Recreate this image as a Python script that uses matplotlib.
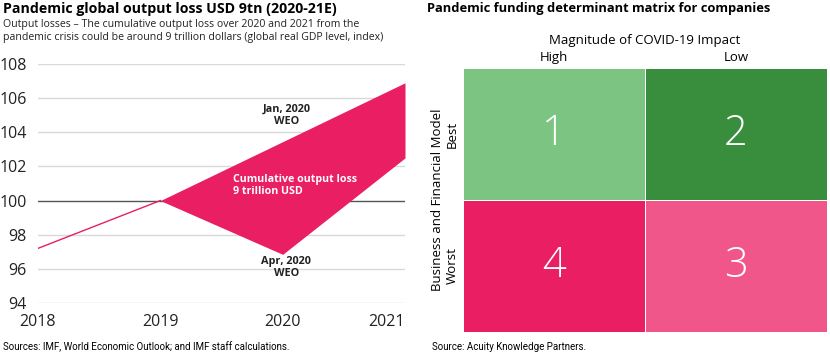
import matplotlib
matplotlib.use("Agg")
import matplotlib.pyplot as plt
import numpy as np
from matplotlib.colors import ListedColormap

plt.rcParams['font.family'] = ['Open Sans', 'DejaVu Sans']

# left chart data (global real GDP level, index)
years = [2018, 2019, 2020, 2021]
pre_years = [2018, 2019]
pre_values = [97.2, 100.0]
jan_weo = [100.0, 103.45, 106.9]   # 2019..2021
apr_weo = [100.0, 96.85, 102.5]    # 2019..2021
fc_years = [2019, 2020, 2021]
y_ticks = [94, 96, 98, 100, 102, 104, 106, 108]

# right chart data
col_labels = ["High", "Low"]
row_labels = ["Best", "Worst"]
cell_numbers = [[1, 2], [4, 3]]
cell_colors = ["#7CC482", "#388E3C", "#F0568A", "#E91E63"]  # by number 1..4

PINK = "#E91E63"

fig = plt.figure(figsize=(8.3, 3.6), dpi=100)

# ---- left chart ----
ax = fig.add_axes([38 / 830, 1 - 303 / 360, (405 - 38) / 830, (303 - 64) / 360])
ax.plot(pre_years, pre_values, color=PINK, lw=1)
ax.fill_between(fc_years, apr_weo, jan_weo, color=PINK, lw=0)
ax.set_xlim(2018, 2021)
ax.set_ylim(94, 108)
ax.set_yticks(y_ticks)
ax.set_xticks(years)
xl = ax.set_xticklabels([str(y) for y in years], fontsize=11.5, color="#222222")
xl[-1].set_horizontalalignment("right")
ax.set_yticklabels([str(v) for v in y_ticks], fontsize=11.5, color="#222222")
ax.tick_params(length=0)
ax.tick_params(axis='x', pad=8)
ax.tick_params(axis='y', pad=8)
for v in y_ticks:
    ax.axhline(v, color="#555555" if v == 100 else "#d9d9d9", lw=1, zorder=0)
for s in ax.spines.values():
    s.set_visible(False)
ax.text(2020.03, 105.0, "Jan, 2020\nWEO", ha="center", va="center", fontsize=7.8,
        fontweight="bold", color="#222222", linespacing=1.1)
ax.text(2020.03, 96.1, "Apr, 2020\nWEO", ha="center", va="center", fontsize=7.8,
        fontweight="bold", color="#222222", linespacing=1.1)
ax.text(2019.59, 100.9, "Cumulative output loss\n9 trillion USD", ha="left", va="center",
        fontsize=7.7, fontweight="bold", color="white", linespacing=1.1)

fig.text(3 / 830, 1 - 8.5 / 360, "Pandemic global output loss USD 9tn (2020-21E)",
         fontsize=10.2, fontweight="bold", va="center", ha="left")
fig.text(3 / 830, 1 - 31 / 360,
         "Output losses \u2013 The cumulative output loss over 2020 and 2021 from the\n"
         "pandemic crisis could be around 9 trillion dollars (global real GDP level, index)",
         fontsize=7.6, va="center", ha="left", color="#222222", linespacing=1.15)
fig.text(3 / 830, 1 - 347 / 360, "Sources: IMF, World Economic Outlook; and IMF staff calculations.",
         fontsize=7, va="center", ha="left", family=["Roboto", "DejaVu Sans"])

# ---- right chart: matrix ----
ax2 = fig.add_axes([463 / 830, 1 - 332 / 360, (827 - 463) / 830, (332 - 68) / 360])
nums = np.array(cell_numbers)
cmap = ListedColormap(cell_colors)
ax2.pcolormesh(np.arange(3), np.arange(3), nums, cmap=cmap, vmin=0.5, vmax=4.5,
               edgecolors="white", linewidth=0.6)
ax2.set_xlim(0, 2)
ax2.set_ylim(2, 0)
for i in range(2):
    for j in range(2):
        ax2.text(j + 0.5, i + 0.5, str(cell_numbers[i][j]), ha="center", va="center",
                 fontsize=30, color="white", fontweight="light")
ax2.set_xticks([0.5, 1.5])
ax2.set_xticklabels(col_labels, fontsize=9.5)
ax2.xaxis.tick_top()
ax2.set_yticks([0.5, 1.5])
ax2.set_yticklabels(row_labels, fontsize=9.5, rotation=90, va="center")
ax2.tick_params(length=0, pad=3)
for s in ax2.spines.values():
    s.set_visible(False)
ax2.set_xlabel("Magnitude of COVID-19 Impact", fontsize=9.5, labelpad=5)
ax2.xaxis.set_label_position("top")
ax2.set_ylabel("Business and Financial Model", fontsize=9.5, labelpad=1)

fig.text(427 / 830, 1 - 8.5 / 360, "Pandemic funding determinant matrix for companies",
         fontsize=9.3, fontweight="bold", va="center", ha="left")
fig.text(432 / 830, 1 - 347 / 360, "Source: Acuity Knowledge Partners.",
         fontsize=7, va="center", ha="left", family=["Roboto", "DejaVu Sans"])

fig.savefig("out.png", dpi=100)
